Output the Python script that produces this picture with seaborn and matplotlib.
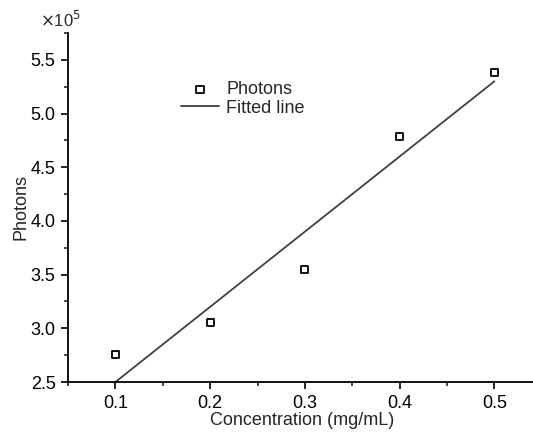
import matplotlib
matplotlib.use("Agg")
import matplotlib.pyplot as plt
from matplotlib.ticker import MultipleLocator
import seaborn as sns
import pandas as pd

# data (photons in units of 1e5)
concentration = [0.1, 0.2, 0.3, 0.4, 0.5]
photons = [2.76, 3.05, 3.55, 4.79, 5.38]
fit_x = [0.1, 0.5]
fit_y = [2.50, 5.30]

sns.set_style("ticks")
plt.rcParams['font.family'] = ['Liberation Sans', 'DejaVu Sans']

fig = plt.figure(figsize=(5.33, 4.32), dpi=100)
ax = fig.add_axes([0.1276, 0.1157, 0.88, 0.808])

pts = pd.DataFrame({'x': concentration, 'y': photons})
fit = pd.DataFrame({'x': fit_x, 'y': fit_y})

sns.lineplot(data=fit, x='x', y='y', ax=ax, color='#404040', lw=1.3, label='Fitted line')
sns.scatterplot(data=pts, x='x', y='y', ax=ax, marker='s', s=26,
                facecolor='none', edgecolor='black', linewidth=1.3, label='Photons')

ax.set_xlim(0.05, 0.545)
ax.set_ylim(2.5, 5.75)
ax.xaxis.set_major_locator(MultipleLocator(0.1))
ax.xaxis.set_minor_locator(MultipleLocator(0.05))
ax.yaxis.set_major_locator(MultipleLocator(0.5))
ax.yaxis.set_minor_locator(MultipleLocator(0.25))
ax.tick_params(which='major', direction='out', length=5, width=1.2, labelsize=13,
               colors='black', pad=4)
ax.tick_params(which='minor', direction='out', length=3, width=1.2)
ax.set_xticklabels([f'{t:.1f}' for t in ax.get_xticks()])
ax.set_yticklabels([f'{t:.1f}' for t in ax.get_yticks()])
for s in ['top', 'right']:
    ax.spines[s].set_visible(False)
for s in ['left', 'bottom']:
    ax.spines[s].set_linewidth(1.3)
    ax.spines[s].set_color('black')

ax.set_xlabel('Concentration (mg/mL)', fontsize=13, labelpad=0)
ax.set_ylabel('Photons', fontsize=13, labelpad=1)

h, l = ax.get_legend_handles_labels()
ax.legend(h[::-1], l[::-1], loc='upper left', bbox_to_anchor=(0.241, 0.862), frameon=False,
          fontsize=13, handlelength=2.1, handletextpad=0.4, labelspacing=0.08,
          borderaxespad=0, borderpad=0)

fig.text(0.075, 0.9375, r'$\times$10$^5$', fontsize=12, ha='left', va='baseline')

fig.savefig('out.png', dpi=100)
